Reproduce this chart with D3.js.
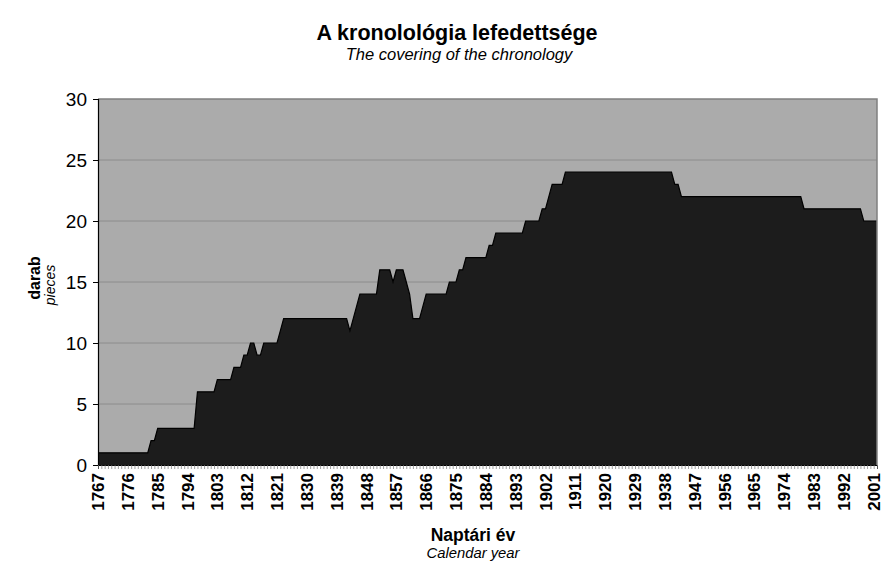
<!DOCTYPE html>
<html><head><meta charset="utf-8">
<script src="https://cdn.jsdelivr.net/npm/d3@7"></script>
<style>body{margin:0;background:#fff}svg{display:block}text{font-family:"Liberation Sans",Arial,sans-serif}</style>
</head><body>
<script>
const firstYear = 1767, lastYear = 2002;
const years = d3.range(firstYear, lastYear + 1);
const counts = [
 1,1,1,1,1,1,1,1,1,1,1,1,1,1,1,1,   // 1767-1782
 2,2,                                 // 1783-1784
 3,3,3,3,3,3,3,3,3,3,3,3,             // 1785-1796
 6,6,6,6,6,6,                         // 1797-1802
 7,7,7,7,7,                           // 1803-1807
 8,8,8,                               // 1808-1810
 9,9,                                 // 1811-1812
 10,10,                               // 1813-1814
 9,9,                                 // 1815-1816
 10,10,10,10,10,                      // 1817-1821
 11,                                  // 1822
 12,12,12,12,12,12,12,12,12,12,12,12,12,12,12,12,12,12,12,12, // 1823-1842
 11,12,13,                            // 1843-1845
 14,14,14,14,14,14,                   // 1846-1851
 16,16,16,16,                         // 1852-1855
 15,                                  // 1856
 16,16,16,                            // 1857-1859
 15,14,                               // 1860-1861
 12,12,12,                            // 1862-1864
 13,                                  // 1865
 14,14,14,14,14,14,14,                // 1866-1872
 15,15,15,                            // 1873-1875
 16,16,                               // 1876-1877
 17,17,17,17,17,17,17,                // 1878-1884
 18,18,                               // 1885-1886
 19,19,19,19,19,19,19,19,19,          // 1887-1895
 20,20,20,20,20,                      // 1896-1900
 21,21,                               // 1901-1902
 22,                                  // 1903
 23,23,23,23,                         // 1904-1907
 24,24,24,24,24,24,24,24,24,24,24,24,24,24,24,24,24,24,24,24,24,24,24,24,24,24,24,24,24,24,24,24,24, // 1908-1940
 23,23,                               // 1941-1942
 22,22,22,22,22,22,22,22,22,22,22,22,22,22,22,22,22,22,22,22,22,22,22,22,22,22,22,22,22,22,22,22,22,22,22,22,22, // 1943-1979
 21,21,21,21,21,21,21,21,21,21,21,21,21,21,21,21,21,21, // 1980-1997
 20,20,20,20,20                       // 1998-2002
];
const xTickLabels = ["1767","1776","1785","1794","1803","1812","1821","1830","1839","1848","1857","1866","1875","1884","1893","1902","1911","1920","1929","1938","1947","1956","1965","1974","1983","1992","2001"];
const yTicks = [0,5,10,15,20,25,30];
const title = "A kronolológia lefedettsége";
const subtitle = "The covering of the chronology";
const yTitle = "darab", yTitle2 = "pieces";
const xTitle = "Naptári év", xTitle2 = "Calendar year";

const W = 884, H = 576;
const L = 98, R = 877, T = 99, B = 465;
const data = years.map((y, i) => ({year: y, v: counts[i]}));

const svg = d3.select("body").append("svg").attr("width", W).attr("height", H);
const x = d3.scalePoint().domain(years).range([L, R]);
const y = d3.scaleLinear().domain([0, 30]).range([B, T]);

svg.append("rect").attr("x", L).attr("y", T).attr("width", R - L).attr("height", B - T).attr("fill", "#ababab");

// gridlines
svg.append("g").selectAll("line").data(yTicks.filter(d => d > 0 && d < 30)).join("line")
  .attr("x1", L).attr("x2", R).attr("y1", d => y(d)).attr("y2", d => y(d))
  .attr("stroke", "#8c8c8c").attr("stroke-width", 1);

// area
const area = d3.area().x(d => x(d.year)).y0(y(0)).y1(d => y(d.v)).curve(d3.curveLinear);
svg.append("path").datum(data).attr("d", area).attr("fill", "#1c1c1c");
const line = d3.line().x(d => x(d.year)).y(d => y(d.v));
svg.append("path").datum(data).attr("d", line).attr("fill", "none").attr("stroke", "#000").attr("stroke-width", 1.2);

// plot border (top/right)
svg.append("path").attr("d", `M${L},${T}H${R}V${B}`).attr("fill", "none").attr("stroke", "#808080").attr("stroke-width", 1.5);

// y axis
const yAxis = d3.axisLeft(y).tickValues(yTicks).tickSize(5).tickPadding(6);
const gy = svg.append("g").attr("transform", `translate(${L},0)`).call(yAxis);
gy.select(".domain").attr("stroke", "#000").attr("stroke-width", 1.2);
gy.selectAll(".tick line").attr("stroke", "#000");
gy.selectAll(".tick text").attr("font-size", 19).attr("fill", "#000").style("font-family", '"Liberation Sans",Arial,sans-serif');

// x axis (tick every year, labels every 9)
const xAxis = d3.axisBottom(x).tickValues(years).tickSize(4).tickFormat("");
const gx = svg.append("g").attr("transform", `translate(0,${B})`).call(xAxis);
gx.select(".domain").attr("stroke", "#000");
gx.selectAll(".tick line").attr("stroke", "#777").attr("stroke-width", 0.7);

svg.append("g").selectAll("text").data(xTickLabels).join("text")
  .attr("transform", d => `translate(${x(+d) + 6},${B + 8}) rotate(-90)`)
  .attr("text-anchor", "end").attr("font-size", 17).attr("font-weight", "bold").attr("fill", "#000")
  .text(d => d);

// titles
svg.append("text").attr("x", 457).attr("y", 40).attr("text-anchor", "middle").attr("font-size", 21.5).attr("font-weight", "bold").text(title);
svg.append("text").attr("x", 459).attr("y", 60).attr("text-anchor", "middle").attr("font-size", 16.5).attr("font-style", "italic").text(subtitle);

svg.append("text").attr("transform", "translate(40,278) rotate(-90)").attr("text-anchor", "middle").attr("font-size", 16).attr("font-weight", "bold").text(yTitle);
svg.append("text").attr("transform", "translate(55,285) rotate(-90)").attr("text-anchor", "middle").attr("font-size", 14).attr("font-style", "italic").text(yTitle2);

svg.append("text").attr("x", 473).attr("y", 541).attr("text-anchor", "middle").attr("font-size", 17.5).attr("font-weight", "bold").text(xTitle);
svg.append("text").attr("x", 473).attr("y", 558).attr("text-anchor", "middle").attr("font-size", 14.8).attr("font-style", "italic").text(xTitle2);
</script>
</body></html>
